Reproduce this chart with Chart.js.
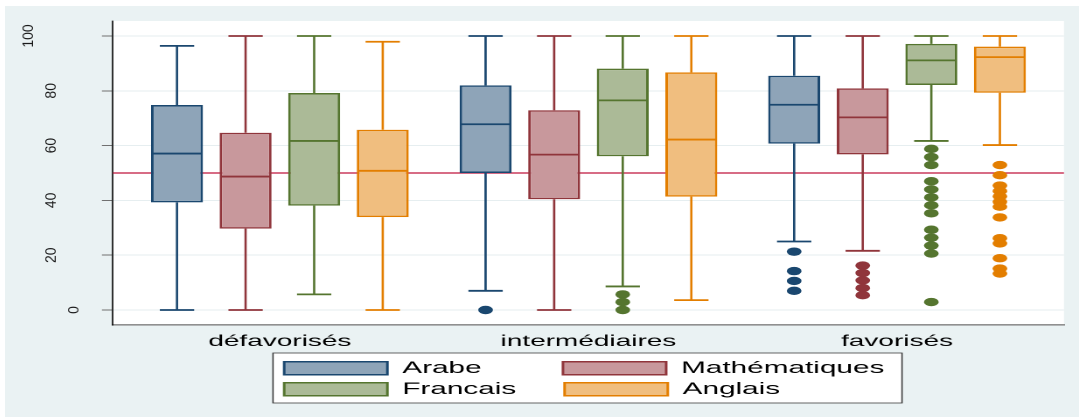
<!DOCTYPE html>
<html lang="fr">
<head>
<meta charset="utf-8">
<script src="https://cdn.jsdelivr.net/npm/chart.js@4.4.1/dist/chart.umd.min.js"></script>
<style>
  html, body { margin: 0; padding: 0; background: #fff; overflow: hidden; }
  /* le graphique d'origine est étiré horizontalement : on dessine étroit puis on étire */
  #wrap { position: absolute; left: 5px; top: 6px; width: 614px; height: 411px;
          transform-origin: 0 0; transform: scaleX(1.7492); }
</style>
</head>
<body>
<div id="wrap"><canvas id="chart" width="614" height="411"></canvas></div>
<script>
const groups = ['défavorisés', 'intermédiaires', 'favorisés'];
const subjects = ['Arabe', 'Mathématiques', 'Francais', 'Anglais'];
const yTicks = [0, 20, 40, 60, 80, 100];
const refLine = 50;

// une ligne par matière, une colonne par groupe
const lowWhisker  = [[0, 7, 25],        [0, 0, 21.6],       [5.7, 8.6, 61.7],   [0, 3.6, 60.2]];
const q1          = [[39.3, 50, 60.7],  [29.7, 40.4, 56.8], [38.1, 56.1, 82.1], [33.9, 41.4, 79.3]];
const median      = [[57.1, 67.8, 74.9],[48.7, 56.7, 70.3], [61.7, 76.5, 91.1], [50.8, 62.2, 92.3]];
const q3          = [[74.8, 82, 85.5],  [64.7, 72.9, 80.9], [79.2, 88.1, 97.1], [65.8, 86.7, 96.1]];
const highWhisker = [[96.4, 100, 100],  [100, 100, 100],    [100, 100, 100],    [97.9, 100, 100]];

// valeurs extrêmes (points)
const outArabe    = [[], [0], [21.3, 14.2, 10.6, 7.0]];
const outMaths    = [[], [], [16.2, 13.5, 10.8, 8.0, 5.4]];
const outFrancais = [[], [5.7, 2.9, 0], [58.8, 55.8, 52.9, 47.0, 44.0, 41.1, 38.2, 35.3, 29.3, 26.4, 23.5, 20.6, 2.9]];
const outAnglais  = [[], [], [52.9, 49.2, 45.4, 43.4, 41.5, 39.5, 37.7, 33.8, 26.2, 24.3, 18.9, 15.1, 13.3]];
const outliers = [outArabe, outMaths, outFrancais, outAnglais];

const strokeColors = ['#1a476f', '#90353b', '#55752f', '#e37e00'];
const fillColors   = ['#8ea4b8', '#c8989c', '#abba97', '#f0be7f'];

const SX = 1074 / 614;                 // étirement horizontal du wrapper
const legendPad = [9, 0, 5, 0];        // espaces pour aligner les 2 colonnes de la légende

const boxPlot = {
    id: 'boxPlot',
    afterLayout(chart) {
        // légende sur deux colonnes, placée comme dans l'original
        const lg = chart.legend;
        lg.left = 155.6;
        lg.width = 360;
        lg.right = lg.left + lg.width;
    },
    beforeDraw(chart) {
        const { ctx, chartArea: a, legend: lg } = chart;
        ctx.save();
        ctx.fillStyle = '#eaf2f3';
        ctx.fillRect(0, 0, chart.width, chart.height);
        ctx.fillStyle = '#fff';
        ctx.fillRect(a.left, a.top, a.right - a.left, a.bottom - a.top);
        // cadre de la légende
        ctx.fillRect(lg.left - 2.4, lg.top - 2.8, 359.6, 50);
        ctx.strokeStyle = '#404040';
        ctx.lineWidth = 0.8;
        ctx.strokeRect(lg.left - 2.4, lg.top - 2.8, 359.6, 50);
        ctx.restore();
    },
    beforeDatasetsDraw(chart) {
        const { ctx, chartArea: a } = chart;
        const y = chart.scales.y;
        ctx.save();
        // ligne de référence à 50
        ctx.strokeStyle = '#c0143c';
        ctx.lineWidth = 1.2;
        ctx.beginPath();
        ctx.moveTo(a.left, y.getPixelForValue(refLine));
        ctx.lineTo(a.right, y.getPixelForValue(refLine));
        ctx.stroke();

        // moustaches
        chart.data.datasets.forEach((ds, i) => {
            chart.getDatasetMeta(i).data.forEach((bar, j) => {
                const cap = bar.width * 0.33;
                ctx.strokeStyle = strokeColors[i];
                ctx.lineWidth = 1.3;
                ctx.beginPath();
                ctx.moveTo(bar.x, y.getPixelForValue(q3[i][j]));
                ctx.lineTo(bar.x, y.getPixelForValue(highWhisker[i][j]));
                ctx.moveTo(bar.x, y.getPixelForValue(q1[i][j]));
                ctx.lineTo(bar.x, y.getPixelForValue(lowWhisker[i][j]));
                ctx.stroke();
                ctx.lineWidth = 1.8;
                ctx.beginPath();
                ctx.moveTo(bar.x - cap, y.getPixelForValue(highWhisker[i][j]));
                ctx.lineTo(bar.x + cap, y.getPixelForValue(highWhisker[i][j]));
                ctx.moveTo(bar.x - cap, y.getPixelForValue(lowWhisker[i][j]));
                ctx.lineTo(bar.x + cap, y.getPixelForValue(lowWhisker[i][j]));
                ctx.stroke();
            });
        });
        ctx.restore();
    },
    afterDatasetsDraw(chart) {
        const ctx = chart.ctx;
        const y = chart.scales.y;
        ctx.save();
        chart.data.datasets.forEach((ds, i) => {
            chart.getDatasetMeta(i).data.forEach((bar, j) => {
                // médiane
                ctx.strokeStyle = strokeColors[i];
                ctx.lineWidth = 1.8;
                ctx.beginPath();
                ctx.moveTo(bar.x - bar.width / 2 + 1, y.getPixelForValue(median[i][j]));
                ctx.lineTo(bar.x + bar.width / 2 - 1, y.getPixelForValue(median[i][j]));
                ctx.stroke();
                // points extrêmes
                ctx.fillStyle = strokeColors[i];
                outliers[i][j].forEach(v => {
                    ctx.beginPath();
                    ctx.arc(bar.x, y.getPixelForValue(v), 4.2, 0, Math.PI * 2);
                    ctx.fill();
                });
            });
        });
        ctx.restore();
    },
    afterDraw(chart) {
        // libellés de l'axe y : verticaux, sans l'étirement horizontal
        const ctx = chart.ctx;
        const y = chart.scales.y;
        ctx.save();
        ctx.font = "14px 'Liberation Sans', Arial, sans-serif";
        ctx.fillStyle = '#1a1a1a';
        ctx.textAlign = 'center';
        ctx.textBaseline = 'middle';
        yTicks.forEach(v => {
            const label = String(v);
            const cx = (52 - 23 * (label.length - 2) - 5) / SX;
            ctx.save();
            ctx.translate(cx, y.getPixelForValue(v));
            ctx.scale(1 / SX, 1);
            ctx.rotate(-Math.PI / 2);
            ctx.fillText(label, 0, 0);
            ctx.restore();
        });
        ctx.restore();
    }
};

Chart.defaults.font.family = "'Liberation Sans', Arial, sans-serif";
Chart.defaults.color = '#000';

new Chart(document.getElementById('chart'), {
    type: 'bar',
    data: {
        datasets: subjects.map((name, i) => ({
            label: name,
            data: groups.map((g, j) => ({ x: j, y: [q1[i][j], q3[i][j]] })),
            backgroundColor: fillColors[i],
            borderColor: strokeColors[i],
            borderWidth: 1.5,
            borderSkipped: false,
            categoryPercentage: 0.889,
            barPercentage: 0.758
        }))
    },
    options: {
        responsive: false,
        devicePixelRatio: 2,
        animation: false,
        events: [],
        layout: { padding: { top: 15, left: 0, right: 8.6, bottom: 9.2 } },
        plugins: {
            tooltip: { enabled: false },
            legend: {
                position: 'bottom',
                align: 'start',
                labels: {
                    boxWidth: 59,
                    boxHeight: 13,
                    padding: 4,
                    color: '#000',
                    font: { size: 17 },
                    generateLabels(chart) {
                        const items = Chart.defaults.plugins.legend.labels.generateLabels(chart);
                        items.forEach((it, i) => { it.text = subjects[i] + ' '.repeat(legendPad[i]); });
                        return items;
                    }
                }
            }
        },
        scales: {
            x: {
                type: 'linear',
                min: -0.541,
                max: 2.541,
                offset: false,
                grid: { display: false, drawTicks: false },
                border: { color: '#909090', width: 1.6 },
                afterBuildTicks: s => { s.ticks = groups.map((g, j) => ({ value: j })); },
                afterFit: s => { s.height = 30.8; s.paddingLeft = 0; s.paddingRight = 0; },
                ticks: {
                    padding: 7,
                    maxRotation: 0,
                    autoSkip: false,
                    font: { size: 16 },
                    color: '#000',
                    callback: v => groups[v]
                }
            },
            y: {
                min: -5.47,
                max: 105.47,
                grid: { color: '#e6eef0', lineWidth: 1, tickLength: 6.3, tickColor: '#707070' },
                border: { color: '#000', width: 0.8 },
                afterBuildTicks: s => { s.ticks = yTicks.map(v => ({ value: v })); },
                afterFit: s => { s.width = 61.7; s.paddingTop = 0; s.paddingBottom = 0; },
                ticks: { display: false }
            }
        }
    },
    plugins: [boxPlot]
});
</script>
</body>
</html>
